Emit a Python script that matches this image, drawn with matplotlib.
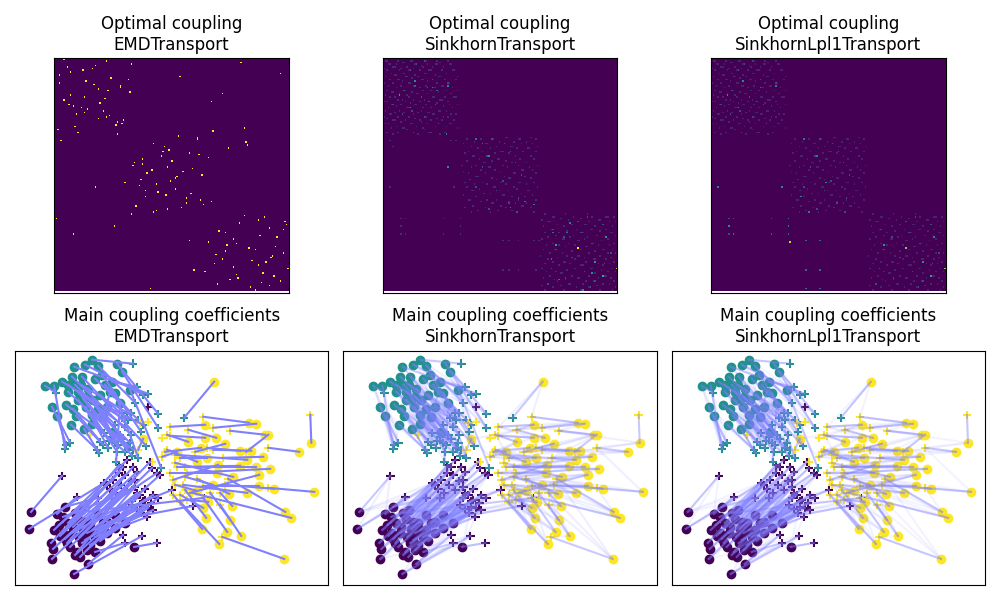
import matplotlib
matplotlib.use('Agg')
import matplotlib.pyplot as plt
import numpy as np

# sources and their main target, same index = matched pair
teal_src_x = [77, 70, 59, 83, 102, 107, 87, 80, 57, 67, 47, 39, 30, 53, 53, 63, 73, 97, 95, 100, 115, 78, 63, 105, 37, 51, 42, 71, 77, 61, 56, 69, 77, 98, 90, 85, 72, 66, 92, 58, 83, 88, 68, 60]
teal_src_y = [225, 220, 218, 219, 221, 213, 210, 206, 208, 208, 203, 199, 199, 200, 193, 193, 196, 203, 193, 192, 195, 185, 185, 182, 178, 180, 169, 178, 170, 169, 160, 156, 161, 153, 200, 190, 188, 200, 178, 176, 176, 168, 186, 200]
teal_tgt_x = [118, 128, 133, 120, 143, 143, 126, 123, 116, 131, 107, 50, 41, 110, 113, 117, 103, 122, 91, 123, 146, 100, 94, 101, 55, 89, 51, 93, 102, 85, 82, 84, 110, 118, 116, 113, 105, 112, 128, 88, 108, 115, 97, 100]
teal_tgt_y = [221, 190, 191, 182, 171, 157, 153, 165, 150, 139, 167, 136, 192, 158, 137, 129, 140, 198, 178, 127, 117, 142, 144, 123, 142, 152, 140, 137, 133, 143, 135, 132, 133, 135, 172, 165, 150, 172, 160, 140, 146, 142, 148, 160]

yellow_src_x = [199, 234, 241, 190, 250, 253, 296, 284, 201, 190, 173, 210, 186, 225, 236, 248, 162, 182, 192, 225, 241, 203, 299, 244, 244, 259, 270, 276, 269, 226, 212, 204, 187, 191, 215, 217, 214, 198, 202, 128, 182, 188, 193, 232, 255, 218, 232]
yellow_src_y = [203, 162, 161, 160, 150, 150, 142, 133, 147, 147, 143, 141, 137, 134, 134, 128, 133, 123, 127, 119, 118, 120, 93, 110, 99, 96, 73, 67, 26, 49, 53, 41, 56, 67, 65, 79, 91, 100, 112, 146, 94, 77, 83, 125, 116, 108, 92]
yellow_tgt_x = [169, 188, 198, 155, 215, 231, 295, 253, 173, 155, 152, 180, 150, 192, 198, 208, 147, 152, 165, 170, 162, 158, 253, 175, 188, 210, 213, 177, 207, 205, 188, 165, 158, 170, 195, 205, 182, 170, 155, 123, 160, 165, 172, 160, 172, 160, 168]
yellow_tgt_y = [167, 168, 157, 158, 154, 133, 170, 137, 155, 149, 150, 133, 133, 137, 135, 127, 128, 135, 127, 118, 118, 105, 97, 92, 99, 100, 106, 92, 48, 80, 87, 83, 90, 95, 92, 92, 106, 108, 112, 135, 100, 90, 85, 130, 112, 122, 100]

purple_src_x = [16, 14, 42, 50, 48, 44, 39, 36, 52, 38, 37, 59, 73, 119, 65, 62, 80, 57, 72, 83, 110, 100, 70, 83, 55, 75, 92, 60, 67, 75, 80, 100, 50, 58, 64, 45, 68, 53, 77, 63, 88, 72, 60, 48, 85, 70, 92, 66]
purple_src_y = [73, 56, 71, 78, 68, 60, 55, 42, 42, 36, 26, 11, 21, 38, 28, 33, 33, 52, 52, 55, 62, 70, 63, 70, 38, 62, 63, 72, 42, 40, 48, 57, 46, 58, 48, 49, 56, 62, 55, 66, 62, 35, 30, 52, 44, 45, 52, 75]
purple_tgt_x = [47, 89, 62, 83, 97, 98, 112, 108, 118, 122, 120, 127, 108, 142, 125, 120, 110, 120, 128, 138, 143, 145, 142, 135, 137, 157, 178, 189, 130, 126, 132, 138, 101, 106, 112, 95, 116, 104, 122, 110, 130, 128, 117, 92, 133, 122, 136, 104]
purple_tgt_y = [109, 102, 88, 87, 87, 105, 125, 118, 118, 113, 105, 49, 50, 42, 90, 98, 42, 87, 78, 90, 87, 110, 112, 123, 117, 95, 79, 87, 85, 72, 68, 75, 92, 100, 95, 96, 104, 112, 92, 110, 96, 84, 80, 100, 77, 76, 82, 120]

# targets whose line is hidden in the tangle
loose_yellow_x = [75, 125, 133, 147, 137]
loose_yellow_y = [150, 162, 163, 147, 123]
loose_purple_x = [133]
loose_purple_y = [178]

# second-choice targets of each source in the Sinkhorn couplings
teal_links = [[1, 3], [2, 4, 7], [6, 8, 9], [5, 6, 9], [3, 7, 5], [4, 1, 17], [5, 13, 9], [6, 16, 21], [13, 14, 10], [7, 8, 14],
              [8, 14, 29], [24, 26, 10], [11, 24, 26], [16, 21, 8], [16, 21, 27], [21, 19, 28], [14, 15, 19], [2, 3, 4], [13, 21, 3], [9, 15, 23],
              [4, 5, 9], [27, 28, 15], [29, 25, 27], [15, 19, 9], [26, 11, 30], [22, 29, 27], [11, 24, 30], [28, 31, 21], [31, 23, 33], [30, 31, 22],
              [29, 31, 26], [28, 30, 32], [28, 31, 33], [19, 23, 32], [35, 37, 38], [34, 37, 40], [42, 40, 39], [34, 43, 35], [34, 41, 40], [36, 42, 29],
              [41, 36, 35], [40, 38, 36], [36, 39, 43], [37, 42, 36]]
yellow_links = [[1, 3], [2, 3, 8], [1, 8, 4], [8, 9, 10], [2, 13, 14], [4, 14, 15], [4, 5, 7], [5, 15, 13], [3, 9, 11], [10, 12, 3],
                [9, 12, 16], [13, 14, 18], [16, 17, 11], [11, 14, 18], [15, 11, 13], [14, 19, 20], [12, 17, 10], [12, 18, 16], [17, 19, 12], [18, 20, 38],
                [19, 21, 15], [19, 37, 38], [25, 26, 7], [24, 37, 36], [23, 25, 36], [24, 26, 36], [22, 25, 24], [23, 26, 35], [29, 26, 35], [28, 30, 35],
                [31, 32, 41], [30, 32, 33], [31, 33, 41], [32, 40, 30], [35, 36, 41], [29, 34, 42], [24, 37, 40], [36, 38, 40], [21, 37, 19], [16, 10],
                [32, 33, 41], [40, 42, 33], [41, 34, 30], [19, 20, 16], [19, 20, 23], [21, 38, 19], [23, 37, 25]]
purple_links = [[2, 1, 3], [0, 2, 5], [3, 4, 0], [2, 4, 5], [3, 5, 17], [4, 6, 3], [5, 7, 17], [6, 8, 9], [7, 9, 10], [8, 10, 14],
                [9, 14, 11], [12, 16, 10], [11, 16, 29], [16, 29, 30], [15, 10, 29], [14, 17, 9], [12, 13, 29], [15, 18, 28], [17, 19, 28], [18, 20, 31],
                [19, 21, 31], [20, 22, 23], [21, 23, 25], [21, 22, 24], [23, 9, 8], [22, 26, 27], [25, 27, 20], [25, 26, 23], [17, 14, 29], [28, 30, 18],
                [29, 31, 19], [30, 19, 18], [33, 35, 43], [32, 37, 39], [36, 41, 33], [43, 32, 37], [34, 38, 39], [39, 33, 47], [36, 40, 45], [37, 36, 47],
                [38, 46, 44], [42, 45, 34], [41, 45, 32], [35, 32, 37], [46, 45, 40], [41, 44, 38], [44, 40, 38], [39, 37, 33]]

# EMD coupling, (row, column) of every filled cell
emd_cells = [(1, 6), (2, 33), (4, 49), (6, 8), (5, 26), (7, 24), (8, 18), (9, 10), (11, 3), (13, 36), (14, 47), (15, 20), (16, 3), (17, 25), (18, 42),
             (19, 42), (20, 28), (21, 34), (22, 48), (24, 10), (25, 19), (26, 32), (27, 6), (29, 29), (30, 9), (31, 12), (32, 17), (33, 21), (34, 31),
             (35, 19), (36, 14), (37, 35), (38, 33), (39, 28), (40, 44), (41, 40), (42, 43), (43, 39), (44, 13), (46, 2), (48, 15), (49, 40), (53, 4),
             (55, 63), (57, 70), (59, 73), (60, 69), (63, 68), (65, 56), (67, 51), (68, 56), (69, 50), (70, 72), (72, 62), (74, 59),
             (76, 78), (77, 77), (75, 94), (79, 74), (84, 77), (87, 87), (90, 84), (92, 100), (91, 93), (93, 84), (94, 95), (96, 81),
             (101, 121), (102, 134), (104, 130), (105, 147), (106, 118), (107, 148), (109, 137), (110, 146), (111, 105), (112, 109), (114, 131), (115, 142),
             (116, 114), (117, 86), (118, 98), (119, 116), (120, 110), (121, 141), (122, 124), (123, 128), (124, 109), (125, 146), (126, 103), (127, 139),
             (128, 138), (129, 107), (130, 126), (131, 135), (132, 102), (133, 130), (134, 114), (135, 149), (136, 89), (137, 96), (138, 133), (139, 116),
             (140, 140), (141, 117), (142, 112), (143, 144), (144, 132), (145, 104), (146, 137), (147, 125), (149, 128),
             (3, 119), (10, 144), (12, 80), (23, 107), (28, 100), (45, 121), (47, 101), (50, 79), (51, 91), (52, 91), (54, 122), (56, 123), (58, 111),
             (61, 86), (62, 92), (64, 98), (66, 75), (71, 88), (73, 82),
             (78, 55), (80, 45), (81, 65), (82, 54), (83, 26), (85, 58), (86, 66), (88, 71), (89, 58), (95, 52), (97, 72), (98, 65), (99, 63), (100, 49),
             (103, 1), (108, 38), (113, 12), (148, 61)]

# Sinkhorn coupling: faint cells per row inside each class block, columns counted from the block start
block1_rows = [[5, 6, 14, 15, 22, 30, 31], [], [1, 2, 9, 17, 18, 26, 27, 34, 41], [12, 13, 36], [3, 4, 8, 20, 21, 28, 33, 34, 42, 43], [24], [6, 7, 15, 25, 31, 38], [0, 11, 19],
               [2, 10, 16, 17, 23, 29, 30, 37, 44, 45], [], [5, 13, 26, 27, 40], [7, 8, 20, 33], [1, 14, 15, 22, 35, 36, 47], [18], [4, 9, 10, 24, 25, 31, 39, 46], [12, 28],
               [0, 6, 16, 17, 34, 41, 42], [], [3, 11, 19, 20, 27, 37, 38], [8, 23, 32, 33, 44], [], [2, 13, 14, 25, 30, 40, 47], [5, 6, 18, 35], [10, 21, 22, 28, 43], [1, 15],
               [4, 7, 16, 24, 31, 32, 39, 45, 46], [], [9, 12, 19, 26, 36, 37], [0, 2, 14, 23, 29, 41], [17, 34], [5, 6, 11, 20, 21, 27, 33, 42, 47], [8, 38], [3, 15, 16, 25, 30, 44],
               [], [1, 10, 18, 24, 35, 36, 40], [7, 13, 22, 28, 29], [4, 5, 12, 19, 31, 32, 43, 46], [], [0, 9, 16, 26, 27, 38, 41], [2, 20, 34], [6, 7, 14, 23, 30, 37, 45],
               [11, 24], [1, 3, 17, 18, 28, 35, 42, 43], [], [8, 21, 33, 40], [5, 12, 13, 25, 47], [15, 26], [], [2, 9, 19, 29, 30, 39], [6, 22, 36]]
block2_rows = [[], [28, 29, 44], [3, 12, 19, 20, 36, 37, 47], [], [8, 24, 33, 41], [1, 15, 16, 27, 38, 45], [], [6, 22, 31, 32, 48], [10, 18, 35, 42, 43], [],
               [4, 13, 25, 26, 39, 47], [2, 21, 30], [], [7, 8, 16, 34, 44], [], [11, 23, 24, 37, 46], [3, 19, 28], [14, 15, 32, 41], [], [0, 9, 26, 36, 48],
               [6, 17, 18, 29, 43], [], [12, 21, 38, 39, 45], [1, 24], [4, 15, 33, 34, 47], [], [9, 10, 27, 40], [19, 30, 31, 44], [5, 22], [], [2, 13, 25, 36, 37, 46],
               [8, 16, 28, 41], [], [3, 20, 21, 33, 48], [11, 35], [6, 7, 24, 29, 42, 43], [], [14, 18, 38], [1, 26, 27, 45], [9, 32, 40], [], [4, 5, 16, 22, 36, 47],
               [12, 30], [19, 20, 34, 41], [], [7, 25, 38, 39], [2, 15, 28, 44], [], [10, 23, 32], [6, 18, 35, 46]]
block3_rows = [[3, 16, 30], [], [8, 9, 21, 33, 42, 43, 47], [13, 26], [1, 18, 37, 38], [5, 6, 24, 31, 44, 48], [], [11, 20, 28, 29, 40], [2, 15, 35, 46], [],
               [7, 8, 23, 32, 33, 42], [17, 38], [3, 12, 26, 27, 45, 46], [], [10, 21, 36, 41, 48], [5, 19, 30], [1, 14, 15, 28, 43], [24, 25, 39], [], [8, 18, 33, 34, 47],
               [4, 12, 22, 37, 44], [16, 29, 30], [], [2, 9, 10, 26, 40, 41, 46], [20, 35], [6, 14, 31, 43, 48], [], [0, 17, 24, 25, 38], [11, 28, 45], [5, 22, 34, 35, 42],
               [], [8, 15, 16, 29, 47], [3, 19, 37, 44], [12, 26, 27, 40], [], [1, 7, 22, 32, 33, 46], [17, 39], [4, 10, 28, 43, 48], [13, 14, 35], [], [6, 20, 31, 41, 42],
               [2, 24, 25, 37, 45], [9, 16], [11, 29, 34, 47], [], [5, 18, 19, 27, 40, 44], [1, 13, 36], [8, 23, 31, 32, 48], [], [3, 15, 26, 38, 46]]

# slightly stronger faint cells, (row, column)
sink_mid = [(2, 26), (4, 21), (8, 17), (12, 14), (14, 31), (16, 41), (21, 13), (25, 24), (28, 29), (30, 6), (30, 33), (34, 18), (36, 12), (38, 26), (42, 35), (48, 19),
            (52, 69), (55, 77), (60, 81), (63, 66), (67, 84), (70, 63), (75, 88), (79, 76), (83, 59), (85, 72), (90, 86), (93, 80), (97, 67), (99, 85),
            (102, 130), (105, 124), (107, 140), (110, 108), (112, 126), (115, 115), (119, 133), (123, 110), (125, 145), (128, 120), (132, 141), (135, 107),
            (137, 128), (141, 116), (143, 135), (145, 105), (147, 132)]

# cells outside the class blocks, only in plain Sinkhorn
sink_cross = [(53, 4), (53, 46), (53, 43), (57, 6), (70, 41), (83, 4), (83, 45), (103, 11), (103, 14), (103, 38), (103, 49), (108, 11), (108, 49),
              (113, 11), (113, 14), (113, 38), (113, 49), (117, 76), (117, 80), (117, 86), (117, 96), (117, 99), (136, 76), (136, 80), (136, 86), (136, 97)]

# brighter cells, (row, column, value)
sink_bright = [(15, 20, 0.5), (18, 41, 0.5), (24, 10, 0.6), (32, 17, 0.5), (19, 31, 0.4), (21, 34, 0.4), (19, 28, 0.3), (18, 20, 0.3), (63, 67, 0.5), (70, 41, 0.5),
               (52, 59, 0.4), (55, 63, 0.35), (49, 40, 0.4), (122, 124, 1.0), (120, 110, 0.6), (115, 142, 0.55), (131, 135, 0.55), (140, 140, 0.65), (138, 133, 0.5),
               (135, 149, 0.9), (112, 108, 0.4), (112, 117, 0.4), (106, 119, 0.45), (142, 112, 0.4), (94, 96, 0.4), (92, 90, 0.4), (149, 127, 0.5), (129, 107, 0.4), (96, 81, 0.5)]
lpl1_bright = [(15, 20, 0.5), (18, 41, 0.45), (24, 10, 0.55), (32, 17, 0.45), (19, 31, 0.35), (63, 67, 0.45), (52, 59, 0.4), (83, 4, 0.45), (83, 45, 0.5), (108, 11, 0.5),
               (118, 50, 0.9), (89, 57, 0.5), (80, 73, 0.5), (103, 11, 0.25), (103, 14, 0.25), (103, 38, 0.25), (103, 49, 0.35), (108, 49, 0.4), (113, 14, 0.4), (113, 38, 0.3),
               (113, 49, 0.3), (113, 11, 0.2), (117, 60, 0.35), (117, 69, 0.35), (136, 60, 0.35), (136, 69, 0.35), (148, 60, 0.4), (148, 69, 0.35), (99, 62, 0.4),
               (122, 124, 0.8), (120, 110, 0.55), (115, 142, 0.5), (131, 135, 0.5), (140, 140, 0.6), (135, 149, 0.8)]

names = ['EMDTransport', 'SinkhornTransport', 'SinkhornLpl1Transport']
colors = ['#440154', '#21918c', '#fde725']
line_color = [0.5, 0.5, 1]
n_cells = 150


def filled_block_matrix(block_level, mid_level):
    G = np.zeros((n_cells, n_cells))
    for start, rows in zip([0, 50, 100], [block1_rows, block2_rows, block3_rows]):
        for i, cols in enumerate(rows):
            for j in cols:
                G[start + i, start + j] = block_level
    for r, c in sink_mid:
        G[r, c] = mid_level
    return G


G_emd = np.zeros((n_cells, n_cells))
for r, c in emd_cells:
    G_emd[r, c] = 1

G_sink = filled_block_matrix(0.11, 0.24)
for r, c in sink_cross:
    G_sink[r, c] = 0.12
for r, c, v in sink_bright:
    G_sink[r, c] = v

G_lpl1 = filled_block_matrix(0.1, 0.22)
for r, c, v in lpl1_bright:
    G_lpl1[r, c] = v

couplings = [G_emd, G_sink, G_lpl1]
main_alpha = [1.0, 0.42, 0.45]
link_alpha = [0.0, 0.12, 0.09]

groups = [(purple_src_x, purple_src_y, purple_tgt_x, purple_tgt_y, purple_links, colors[0]),
          (teal_src_x, teal_src_y, teal_tgt_x, teal_tgt_y, teal_links, colors[1]),
          (yellow_src_x, yellow_src_y, yellow_tgt_x, yellow_tgt_y, yellow_links, colors[2])]

fig = plt.figure(figsize=(10, 6))

for k, name in enumerate(names):
    ax = plt.subplot(2, 3, k + 1)
    ax.imshow(couplings[k], interpolation='nearest', cmap='viridis', vmin=0, vmax=1, aspect='auto')
    ax.set_xlim(-0.5, n_cells - 0.5)
    ax.set_ylim(n_cells + 0.2, -0.5)
    ax.set_box_aspect(1)
    ax.set_xticks([])
    ax.set_yticks([])
    ax.set_title('Optimal coupling\n' + name)

    ax = plt.subplot(2, 3, k + 4)
    for sx, sy, tx, ty, links, color in groups:
        ax.scatter(sx, sy, c=color, marker='o')
        tgt_colors = [color] * len(tx)
        if color == colors[2]:
            tgt_colors[0] = colors[1]
        ax.scatter(tx, ty, c=tgt_colors, marker='+')
    ax.scatter(loose_yellow_x, loose_yellow_y, c=colors[2], marker='+')
    ax.scatter(loose_purple_x, loose_purple_y, c=colors[0], marker='+')
    for sx, sy, tx, ty, links, color in groups:
        for i in range(len(sx)):
            ax.plot([sx[i], tx[i]], [sy[i], ty[i]], color=line_color, alpha=main_alpha[k])
            if link_alpha[k] > 0:
                for j in links[i]:
                    ax.plot([sx[i], tx[j]], [sy[i], ty[j]], color=line_color, alpha=link_alpha[k])
    ax.set_xlim(0, 313)
    ax.set_ylim(0, 234)
    ax.set_xticks([])
    ax.set_yticks([])
    ax.set_title('Main coupling coefficients\n' + name)

plt.tight_layout()
plt.savefig('out.png', dpi=100)
plt.close()
